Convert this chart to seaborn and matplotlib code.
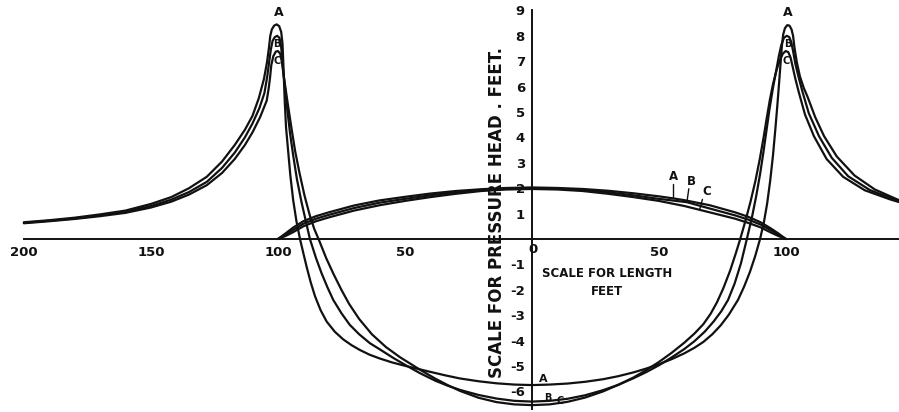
import matplotlib
matplotlib.use("Agg")
import matplotlib.pyplot as plt
import numpy as np
import seaborn as sns

# Pressure-head curves A, B, C along the line: (distance in feet, head in feet)
A_points = [
    (-200, 0.66), (-190, 0.74), (-180, 0.84), (-170, 0.97), (-160, 1.12), (-150, 1.38),
    (-142, 1.65), (-135, 2.0), (-128, 2.45), (-122, 3.05), (-117, 3.7), (-113, 4.3),
    (-110, 4.85), (-107.5, 5.55), (-105.5, 6.3), (-104.3, 6.95), (-103.5, 7.55), (-103.0, 8.0),
    (-102.4, 8.25), (-101.5, 8.4), (-100.5, 8.45), (-99.5, 8.38), (-98.7, 8.15), (-98.2, 7.7),
    (-97.9, 7.0), (-97.6, 6.2), (-97.3, 5.4), (-96.8, 4.4), (-96.0, 3.5), (-95.1, 2.5),
    (-94.0, 1.54), (-92.7, 0.7), (-91.3, 0.0), (-90.0, -0.55), (-88.7, -1.09), (-87.1, -1.7),
    (-85.4, -2.25), (-83.2, -2.8), (-80.8, -3.25), (-77.6, -3.65), (-74.3, -3.95), (-71, -4.18),
    (-67.7, -4.37), (-64, -4.55), (-60, -4.7), (-55, -4.86), (-50, -4.99), (-45, -5.11),
    (-40, -5.23), (-34, -5.37), (-28.3, -5.49), (-21, -5.6), (-14, -5.68), (-7, -5.73),
    (0, -5.75), (7, -5.73), (14, -5.69), (21, -5.62), (28, -5.52), (34, -5.4), (40, -5.25),
    (45, -5.1), (50, -4.93), (55, -4.73), (60, -4.5), (64, -4.28), (67.5, -4.05), (71, -3.75),
    (74.3, -3.4), (77.5, -2.98), (81.1, -2.4), (83.5, -1.88), (85.8, -1.3), (87.9, -0.67),
    (89.8, 0.0), (91.3, 0.65), (92.6, 1.4), (93.8, 2.3), (94.9, 3.3), (95.8, 4.3), (96.6, 5.25),
    (97.3, 6.15), (97.9, 6.95), (98.4, 7.6), (98.9, 8.05), (99.6, 8.3), (100.5, 8.42),
    (101.4, 8.4), (102.2, 8.25), (102.8, 8.0), (103.4, 7.5), (104.3, 6.95), (105.5, 6.4),
    (107, 5.95), (108.5, 5.6), (111.5, 4.8), (115, 4.05), (120, 3.25), (127, 2.5), (135, 1.95),
    (144, 1.55), (147, 1.47),
]
B_points = [
    (-200, 0.64), (-190, 0.72), (-180, 0.81), (-170, 0.93), (-160, 1.07), (-150, 1.3),
    (-142, 1.55), (-135, 1.85), (-128, 2.25), (-122, 2.8), (-117, 3.4), (-113, 4.0),
    (-110, 4.55), (-107.3, 5.15), (-105.3, 5.75), (-104.2, 6.4), (-103.4, 7.0), (-102.8, 7.45),
    (-102.1, 7.8), (-101.2, 7.95), (-100.3, 8.0), (-99.4, 7.92), (-98.8, 7.65), (-98.4, 7.2),
    (-97.9, 6.6), (-97.1, 5.85), (-96.2, 5.0), (-95.2, 4.15), (-94.0, 3.3), (-92.5, 2.35),
    (-90.7, 1.45), (-89, 0.7), (-87.4, 0.0), (-85, -0.75), (-82.8, -1.35), (-80.5, -1.9),
    (-78.2, -2.4), (-75, -2.92), (-71.7, -3.38), (-68, -3.75), (-63.8, -4.1), (-59, -4.4),
    (-54.6, -4.68), (-50, -4.95), (-44.1, -5.28), (-38, -5.58), (-33, -5.78), (-28.3, -5.94),
    (-21, -6.14), (-14, -6.28), (-7, -6.37), (0, -6.4), (7, -6.37), (14, -6.29), (21, -6.15),
    (28, -5.95), (34, -5.74), (40, -5.48), (45, -5.24), (50, -4.97), (55, -4.66), (60, -4.33),
    (64, -4.02), (68, -3.65), (71.5, -3.25), (74.5, -2.85), (77.2, -2.4), (79.8, -1.75),
    (82.3, -0.95), (84.6, 0.0), (86.6, 0.85), (88.3, 1.7), (89.8, 2.55), (91.1, 3.4),
    (92.3, 4.25), (93.5, 5.1), (94.8, 5.9), (96.1, 6.6), (97.2, 7.2), (98.2, 7.65), (99.2, 7.92),
    (100.3, 8.0), (101.3, 7.95), (102.1, 7.75), (102.8, 7.4), (103.7, 6.9), (104.9, 6.4),
    (106.5, 5.8), (109, 4.95), (113, 4.05), (118, 3.2), (124.5, 2.47), (133, 1.93),
    (142.5, 1.56), (147, 1.42),
]
C_points = [
    (-200, 0.62), (-190, 0.7), (-180, 0.79), (-170, 0.9), (-160, 1.03), (-150, 1.24),
    (-142, 1.47), (-135, 1.75), (-128, 2.12), (-122, 2.6), (-117, 3.15), (-113, 3.7),
    (-110, 4.2), (-107, 4.8), (-104.4, 5.45), (-103.6, 5.95), (-103.1, 6.35), (-102.6, 6.85),
    (-101.8, 7.2), (-100.8, 7.38), (-100.0, 7.4), (-99.1, 7.3), (-98.4, 6.95), (-97.8, 6.5),
    (-97.1, 6.0), (-96.3, 5.45), (-95.4, 4.85), (-94.4, 4.2), (-93.2, 3.45), (-91.5, 2.6),
    (-89.5, 1.7), (-87.5, 0.95), (-85.7, 0.4), (-84, 0.0), (-81, -0.75), (-78, -1.4),
    (-75, -2.0), (-72, -2.55), (-68, -3.15), (-63, -3.75), (-57.5, -4.25), (-52, -4.65),
    (-48, -4.9), (-44, -5.15), (-38, -5.5), (-33, -5.76), (-28.3, -5.98), (-21, -6.25),
    (-14, -6.42), (-7, -6.51), (0, -6.54), (7, -6.51), (14, -6.41), (21, -6.24), (28, -6.0),
    (34, -5.74), (40, -5.45), (45, -5.16), (50, -4.84), (55, -4.48), (60, -4.08), (64, -3.72),
    (67.5, -3.35), (70.3, -2.95), (72.8, -2.5), (75.3, -1.95), (78, -1.25), (80.3, -0.55),
    (82, 0.0), (84, 0.7), (86, 1.45), (88, 2.3), (89.7, 3.15), (91.2, 4.0), (92.5, 4.8),
    (93.7, 5.5), (94.9, 6.1), (96.3, 6.65), (97.6, 7.05), (98.8, 7.3), (99.9, 7.4),
    (100.9, 7.36), (101.8, 7.15), (102.6, 6.8), (103.6, 6.35), (105, 5.8), (107.5, 4.9),
    (111, 4.05), (116, 3.15), (122.5, 2.45), (131, 1.92), (141, 1.56), (147, 1.38),
]

# Upper arches between the two ends of the line
A_arch_x = [-100, -97, -94, -90, -85, -80, -70, -60, -50, -40, -30, -20, -10, 0, 10, 20, 30, 40,
            50, 55.6, 60, 70, 80, 85, 90, 94, 97, 100]
A_arch_y = [0, 0.22, 0.45, 0.7, 0.9, 1.05, 1.32, 1.52, 1.66, 1.79, 1.89, 1.96, 2.01, 2.03, 2.01,
            1.97, 1.9, 1.8, 1.68, 1.6, 1.53, 1.33, 1.05, 0.88, 0.66, 0.42, 0.22, 0]
B_arch_x = [-100, -97, -94, -90, -85, -80, -70, -60, -50, -40, -30, -20, -10, 0, 10, 20, 30, 40,
            50, 61, 70, 80, 85, 90, 94, 97, 100]
B_arch_y = [0, 0.17, 0.36, 0.6, 0.8, 0.95, 1.22, 1.43, 1.58, 1.72, 1.84, 1.93, 1.98, 2.0, 1.98,
            1.93, 1.84, 1.72, 1.58, 1.45, 1.2, 0.93, 0.77, 0.57, 0.35, 0.17, 0]
C_arch_x = [-100, -97, -94, -90, -85, -80, -70, -60, -50, -40, -30, -20, -10, 0, 10, 20, 30, 40,
            50, 60, 66, 70, 80, 85, 90, 94, 97, 100]
C_arch_y = [0, 0.12, 0.27, 0.5, 0.7, 0.85, 1.12, 1.33, 1.5, 1.65, 1.78, 1.89, 1.95, 1.97, 1.95,
            1.89, 1.78, 1.65, 1.5, 1.3, 1.15, 1.05, 0.8, 0.64, 0.46, 0.26, 0.12, 0]

curve_names = ["A", "B", "C"]
x_ticks = [-200, -150, -100, -50, 50, 100]
x_tick_labels = ["200", "150", "100", "50", "50", "100"]
y_ticks = [9, 8, 7, 6, 5, 4, 3, 2, 1, -1, -2, -3, -4, -5, -6]
y_tick_labels = ["9", "8", "7", "6", "5", "4", "3", "2", "1", "-1", "-2", "-3", "-4", "-5", "-6"]

# Letter positions
peak_label_x = [-99.5, -100.6, -100.4]
peak_label_y = [8.9, 7.68, 7.0]
peak_label_xr = [100.9, 100.6, 100.2]
bowl_label_x = [4.5, 6.3, 11.0]
bowl_label_y = [-5.52, -6.27, -6.36]
arch_label_x = [55.6, 62.9, 68.8]
arch_label_y = [2.48, 2.28, 1.86]
arch_leader_x = [55.6, 61.0, 66.0]

sns.set_theme(style="white")
plt.rcParams["font.family"] = ["DejaVu Sans"]
plt.rcParams["font.weight"] = "bold"

fig = plt.figure(figsize=(8.99, 4.12), dpi=100)
ax = fig.add_axes([0, 0, 1, 1])
ax.set_facecolor("white")

ink = "#111111"
lw = 1.6
main_curves = [A_points, B_points, C_points]
arch_curves = [(A_arch_x, A_arch_y), (B_arch_x, B_arch_y), (C_arch_x, C_arch_y)]
for pts in main_curves:
    xs, ys = zip(*pts)
    sns.lineplot(x=list(xs), y=list(ys), sort=False, estimator=None, color=ink,
                 linewidth=lw, ax=ax)
for xs, ys in arch_curves:
    sns.lineplot(x=xs, y=ys, sort=False, estimator=None, color=ink, linewidth=lw, ax=ax)

ax.set_xlim(-209.4, 144.5)
ax.set_ylim(-6.81, 9.41)

# Axes through the origin
for side in ["top", "right"]:
    ax.spines[side].set_visible(False)
ax.spines["left"].set_position(("data", 0))
ax.spines["bottom"].set_position(("data", 0))
ax.spines["left"].set_bounds(-6.7, 9.0)
ax.spines["bottom"].set_bounds(-200, 145)
for side in ["left", "bottom"]:
    ax.spines[side].set_color(ink)
    ax.spines[side].set_linewidth(1.4)

ax.set_xticks(x_ticks)
ax.set_xticklabels(x_tick_labels)
ax.set_yticks(y_ticks)
ax.set_yticklabels(y_tick_labels)
ax.tick_params(axis="x", direction="in", length=5, width=1.0, color=ink, pad=5,
               labelsize=9.5, labelcolor=ink)
ax.tick_params(axis="y", direction="inout", length=6, width=1.0, color=ink, pad=2,
               labelsize=9.5, labelcolor=ink)
for lab in ax.get_xticklabels() + ax.get_yticklabels():
    lab.set_fontweight("bold")

ax.text(0.3, -0.42, "0", ha="center", va="center", fontsize=9.5, fontweight="bold", color=ink)

ax.text(-13.8, 1.05, "SCALE FOR PRESSURE HEAD . FEET.", rotation=90, ha="center", va="center",
        fontsize=12, fontweight="bold", color=ink)
ax.text(29.5, -1.35, "SCALE FOR LENGTH", ha="center", va="center", fontsize=8.5,
        fontweight="bold", color=ink)
ax.text(29.5, -2.05, "FEET", ha="center", va="center", fontsize=8.5, fontweight="bold", color=ink)

for i, name in enumerate(curve_names):
    size = 9 if i == 0 else 7
    ax.text(peak_label_x[i], peak_label_y[i], name, ha="center", va="center",
            fontsize=size, fontweight="bold", color=ink)
    ax.text(peak_label_xr[i], peak_label_y[i], name, ha="center", va="center",
            fontsize=size, fontweight="bold", color=ink)
    ax.text(bowl_label_x[i], bowl_label_y[i], name, ha="center", va="center",
            fontsize=8 if i == 0 else 7, fontweight="bold", color=ink)
    ax.text(arch_label_x[i], arch_label_y[i], name, ha="center", va="center",
            fontsize=8.5, fontweight="bold", color=ink)

for i, (axs, ays) in enumerate(arch_curves):
    x_end = arch_leader_x[i]
    y_end = float(np.interp(x_end, axs, ays))
    ax.plot([arch_label_x[i] - 0.6 * (arch_label_x[i] - x_end), x_end],
            [arch_label_y[i] - 0.3, y_end], color=ink, linewidth=1.0)

fig.savefig("out.png", dpi=100, facecolor="white")
